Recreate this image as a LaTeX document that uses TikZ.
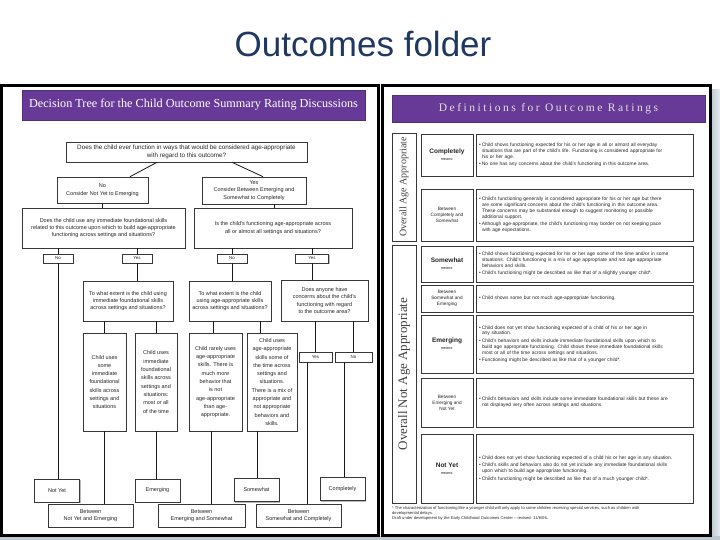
\documentclass[tikz,border=0pt]{standalone}
\usepackage{fontspec}
\setmainfont{Liberation Sans}
\newfontfamily\serifhead{Liberation Serif}
\newfontfamily\spacedhead[LetterSpace=22]{Liberation Serif}
\usetikzlibrary{shadows,calc}
\definecolor{titleblue}{RGB}{31,56,96}
\definecolor{hdrpurple}{RGB}{104,58,152}
\definecolor{boxline}{RGB}{55,55,55}
\definecolor{edgeblue}{RGB}{188,201,211}
\newcommand{\tsize}[2]{\fontsize{#1}{#2}\selectfont}
\newcommand{\dbul}{\textbullet\hspace{1.2pt}}
\newcommand{\dind}{\hspace*{3pt}}

\begin{document}
\begin{tikzpicture}[x=1pt, y=-1pt,
  every node/.style={inner sep=1pt, text=black!85},
  treebox/.style={draw=boxline, line width=0.6pt, fill=white, align=center,
    font=\tsize{5.5}{7.4},
    drop shadow={shadow xshift=1.2pt, shadow yshift=-1.2pt, fill=black!55, opacity=0.5}},
  kidbox/.style={treebox, font=\tsize{5.5}{8.3}},
  tagbox/.style={treebox, font=\tsize{4.4}{5}, minimum width=30, minimum height=9},
  treeline/.style={line width=0.8pt, draw=black!90},
  ratebox/.style={draw=boxline, line width=0.6pt, fill=white, align=center,
    minimum width=52, font=\tsize{4.7}{6},
    drop shadow={shadow xshift=1.4pt, shadow yshift=-1.4pt, fill=black!55, opacity=0.5}},
  defbox/.style={ratebox, align=left, minimum width=217, text width=211pt,
    inner sep=3pt, font=\tsize{4.9}{5.9}},
  sidebox/.style={draw=boxline, line width=0.6pt, fill=white, rotate=90,
    minimum height=24, font=\serifhead, text=black!75},
  hdrbar/.style={fill=hdrpurple, draw=hdrpurple!80!black, line width=0.4pt},
]
\useasboundingbox (0,0) rectangle (720,540);

%% slide edge
\shade[left color=edgeblue, right color=edgeblue!35] (711,90) rectangle (720,540);
\fill[edgeblue] (0,536) rectangle (720,540);

\node[font=\tsize{35}{40}, text=titleblue] (title) at (363,44) {Outcomes folder};

%% the two frames
\draw[line width=3pt] (1.5,85.5) rectangle (378.5,535.5);
\draw[line width=3pt] (382.5,85.5) rectangle (710.5,535.5);

%% ---------- left: decision tree ----------
\node[hdrbar, minimum width=343, minimum height=30, text=white,
  font=\serifhead\tsize{12.2}{14}] (hdrtree) at (193.5,105)
  {Decision Tree for the Child Outcome Summary Rating Discussions};

\node[treebox, font=\tsize{6.3}{7.6}, minimum width=241, minimum height=20] (q1) at (186.5,152)
  {Does the child ever function in ways that would be considered age-appropriate\\ with regard to this outcome?};
\node[treebox, minimum width=91, minimum height=26] (cnone) at (102.5,190)
  {No\\ Consider Not Yet to Emerging};
\node[treebox, minimum width=104, minimum height=27] (cyes) at (254,190.5)
  {Yes\\ Consider Between Emerging and\\ Somewhat to Completely};
\node[treebox, minimum width=163, minimum height=40] (q2l) at (103.5,228)
  {Does the child use any immediate foundational skills\\ related to this outcome upon which to build age-appropriate\\ functioning across settings and situations?};
\node[treebox, minimum width=158, minimum height=40] (q2r) at (273,228)
  {Is the child's functioning age-appropriate across\\ all or almost all settings and situations?};

%% No / Yes tags
\node[tagbox] (tnoa) at (58,258.5) {No};
\node[tagbox] (tyesb) at (137,258.5) {Yes};
\node[tagbox] (tnoc) at (232,258.5) {No};
\node[tagbox, minimum width=33] (tyesd) at (312,258.5) {Yes};

\node[treebox, minimum width=90, minimum height=40] (ext1) at (128,301)
  {To what extent is the child using\\ immediate foundational skills\\ across settings and situations?};
\node[treebox, minimum width=82, minimum height=40] (ext2) at (230,301)
  {To what extent is the child\\ using age-appropriate skills\\ across settings and situations?};
\node[treebox, minimum width=87, minimum height=41] (anyone) at (324.5,300.5)
  {Does anyone have\\ concerns about the child's\\ functioning with regard\\ to the outcome area?};

\node[kidbox, minimum width=43, minimum height=98] (kid1) at (104.5,382)
  {Child uses\\ some\\ immediate\\ foundational\\ skills across\\ settings and\\ situations};
\node[kidbox, minimum width=42, minimum height=98] (kid2) at (156,382)
  {Child uses\\ immediate\\ foundational\\ skills across\\ settings and\\ situations:\\ most or all\\ of the time};
\node[kidbox, minimum width=53, minimum height=98] (kid3) at (215.5,382)
  {Child rarely uses\\ age-appropriate\\ skills. There is\\ much more\\ behavior that\\ is not\\ age-appropriate\\ than age-\\ appropriate.};
\node[kidbox, minimum width=50, minimum height=98] (kid4) at (272,382)
  {Child uses\\ age-appropriate\\ skills some of\\ the time across\\ settings and\\ situations.\\ There is a mix of\\ appropriate and\\ not appropriate\\ behaviors and\\ skills.};

\node[tagbox, minimum width=33, minimum height=10] (tyese) at (315.5,357) {Yes};
\node[tagbox, minimum width=37, minimum height=10] (tnof) at (353.5,357) {No};

%% outcomes at the bottom
\node[treebox, minimum width=45, minimum height=23] (notyet) at (57,490.5) {Not Yet};
\node[treebox, minimum width=45, minimum height=23] (emerg) at (157.5,490.5) {Emerging};
\node[treebox, minimum width=45, minimum height=23] (somew) at (256.5,490) {Somewhat};
\node[treebox, minimum width=45, minimum height=23] (compl) at (342.5,489) {Completely};
\node[treebox, minimum width=85, minimum height=23] (bnye) at (90.5,515.5)
  {Between\\ Not Yet and Emerging};
\node[treebox, minimum width=87, minimum height=23] (bes) at (201.5,515.5)
  {Between\\ Emerging and Somewhat};
\node[treebox, minimum width=85, minimum height=23] (bsc) at (298.5,515.5)
  {Between\\ Somewhat and Completely};

%% connectors
\draw[treeline] ([xshift=-29.5pt]q1.south) -- ([xshift=27.5pt]cnone.north);
\draw[treeline] ([xshift=45.5pt]q1.south) -- ([xshift=9pt]cyes.north);
\draw[treeline] (cnone.south) -- (cnone.south |- q2l.north);
\draw[treeline] ([xshift=20pt]cyes.south) -- ([xshift=20pt]cyes.south |- q2r.north);

\draw[treeline] (q2l.south -| tnoa) -- (tnoa.north);
\draw[treeline] (tnoa.south) -- (notyet.north -| tnoa);
\draw[treeline] (q2l.south -| tyesb) -- (tyesb.north);
\draw[treeline] (tyesb.south) -- (ext1.north -| tyesb);
\draw[treeline] (q2r.south -| tnoc) -- (tnoc.north);
\draw[treeline] (tnoc.south) -- (ext2.north -| tnoc);
\draw[treeline] (q2r.south -| tyesd) -- (tyesd.north);
\draw[treeline] (tyesd.south) -- (anyone.north -| tyesd);

\draw[treeline] (ext1.south -| kid1) -- (kid1.north);
\draw[treeline] (ext1.south -| kid2) -- (kid2.north);
\draw[treeline] ([xshift=-2pt]ext2.south -| kid3) -- ([xshift=-2pt]kid3.north);
\draw[treeline] ([xshift=-12pt]ext2.south -| kid4) -- ([xshift=-12pt]kid4.north);
\draw[treeline] (anyone.south -| tyese) -- (tyese.north);
\draw[treeline] (anyone.south -| tnof) -- (tnof.north);

\draw[treeline] (kid1.south) -- (kid1.south |- bnye.north);
\draw[treeline] (kid2.south) -- (kid2.south |- emerg.north);
\draw[treeline] ([xshift=-4pt]kid3.south) -- ([xshift=-4pt]kid3.south |- bes.north);
\draw[treeline] ([xshift=-15pt]kid4.south) -- ([xshift=-15pt]kid4.south |- somew.north);
\draw[treeline] ([xshift=-8pt]tyese.south) -- ([xshift=-8pt]tyese.south |- bsc.north);
\draw[treeline] ([xshift=-9pt]tnof.south) -- ([xshift=-9pt]tnof.south |- compl.north);

%% ---------- right: definitions ----------
\node[hdrbar, minimum width=313, minimum height=27, text=white!88!black,
  font=\spacedhead\tsize{11.5}{13}] (hdrdef) at (548.5,108.5)
  {Definitions for Outcome Ratings};

\node[sidebox, minimum width=108, font=\serifhead\tsize{10}{12}] (oaa) at (404,187)
  {Overall Age Appropriate};
\node[sidebox, minimum width=258, font=\serifhead\tsize{13}{15}] (onaa) at (404,374)
  {Overall Not Age Appropriate};

%% rating names (x 421-473), definitions (x 476-693)
\node[ratebox, minimum height=42] (rcomp) at (447,155)
  {{\bfseries\tsize{6.5}{8}Completely}\\[1pt]{\tsize{3.8}{4.5}means:}};
\node[defbox, minimum height=42] (dcomp) at (584.5,155)
  {\dbul Child shows functioning expected for his or her age in all or almost all everyday\\
   \dind situations that are part of the child's life. Functioning is considered appropriate for\\
   \dind his or her age.\\[1.5pt]
   \dbul No one has any concerns about the child's functioning in this outcome area.};

\node[ratebox, minimum height=52] (rbcs) at (447,215)
  {Between\\ Completely and\\ Somewhat};
\node[defbox, minimum height=52] (dbcs) at (584.5,215)
  {\dbul Child's functioning generally is considered appropriate for his or her age but there\\
   \dind are some significant concerns about the child's functioning in this outcome area.\\
   \dind These concerns may be substantial enough to suggest monitoring or possible\\
   \dind additional support.\\[1.5pt]
   \dbul Although age-appropriate, the child's functioning may border on not keeping pace\\
   \dind with age expectations.};

\node[ratebox, minimum height=36] (rsome) at (447,264)
  {{\bfseries\tsize{6.5}{8}Somewhat}\\[1pt]{\tsize{3.8}{4.5}means:}};
\node[defbox, minimum height=36] (dsome) at (584.5,264)
  {\dbul Child shows functioning expected for his or her age some of the time and/or in some\\
   \dind situations. Child's functioning is a mix of age appropriate and not age appropriate\\
   \dind behaviors and skills.\\[1.5pt]
   \dbul Child's functioning might be described as like that of a slightly younger child*.};

\node[ratebox, minimum height=27] (rbse) at (447,298.5)
  {Between\\ Somewhat and\\ Emerging};
\node[defbox, minimum height=27] (dbse) at (584.5,298.5)
  {\dbul Child shows some but not much age-appropriate functioning.};

\node[ratebox, minimum height=58] (remer) at (447,344)
  {{\bfseries\tsize{6.5}{8}Emerging}\\[1pt]{\tsize{3.8}{4.5}means:}};
\node[defbox, minimum height=58] (demer) at (584.5,344)
  {\dbul Child does not yet show functioning expected of a child of his or her age in\\
   \dind any situation.\\[1.5pt]
   \dbul Child's behaviors and skills include immediate foundational skills upon which to\\
   \dind build age appropriate functioning. Child shows these immediate foundational skills\\
   \dind most or all of the time across settings and situations.\\[1.5pt]
   \dbul Functioning might be described as like that of a younger child*.};

\node[ratebox, minimum height=49] (rbeny) at (447,402.5)
  {Between\\ Emerging and\\ Not Yet};
\node[defbox, minimum height=49] (dbeny) at (584.5,402.5)
  {\dbul Child's behaviors and skills include some immediate foundational skills but these are\\
   \dind not displayed very often across settings and situations.};

\node[ratebox, minimum height=69] (rnoty) at (447,468.5)
  {{\bfseries\tsize{6.5}{8}Not Yet}\\[1pt]{\tsize{3.8}{4.5}means:}};
\node[defbox, minimum height=69] (dnoty) at (584.5,468.5)
  {\dbul Child does not yet show functioning expected of a child his or her age in any situation.\\[1.5pt]
   \dbul Child's skills and behaviors also do not yet include any immediate foundational skills\\
   \dind upon which to build age appropriate functioning.\\[1.5pt]
   \dbul Child's functioning might be described as like that of a much younger child*.};

\node[anchor=north west, align=left, font=\tsize{4.1}{5.2}] (fnote) at (391,505)
  {* The characterization of functioning like a younger child will only apply to some children receiving special services, such as children with\\
   developmental delays.\\
   Draft under development by the Early Childhood Outcomes Center -- revised: 11/6/06.};

\end{tikzpicture}
\end{document}
